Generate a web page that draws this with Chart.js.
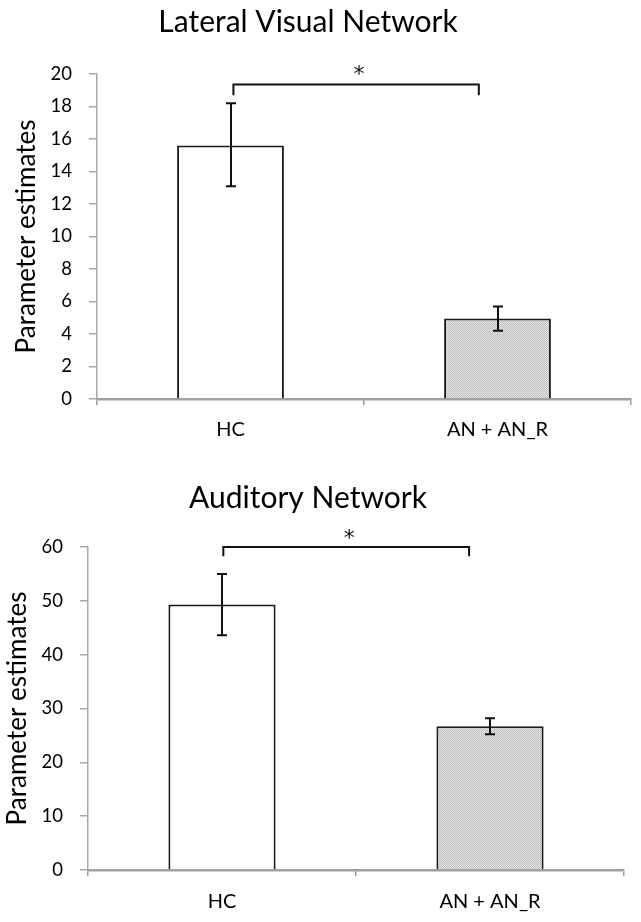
<!DOCTYPE html>
<html>
<head>
<meta charset="utf-8">
<script src="https://cdn.jsdelivr.net/npm/chart.js@4/dist/chart.umd.min.js"></script>
<style>
  html, body { margin: 0; padding: 0; background: #fff; }
  body { width: 641px; height: 922px; position: relative; overflow: hidden; }
  canvas { position: absolute; left: 0; }
</style>
</head>
<body>
<canvas id="c1" width="641" height="460" style="top:0"></canvas>
<canvas id="c2" width="641" height="462" style="top:460px"></canvas>
<script>
// ---- data ----
const categories = ['HC', 'AN + AN_R'];
const yAxisTitle = 'Parameter estimates';

const visualTitle = 'Lateral Visual Network';
const visualValues = [15.6, 4.95];
const visualErrUpper = [18.2, 5.7];
const visualErrLower = [13.1, 4.2];
const visualYMax = 20;
const visualYStep = 2;
const visualBracket = [19.35, 18.7];   // bracket level, end-drop level
const visualStar = '*';

const auditoryTitle = 'Auditory Network';
const auditoryValues = [49.3, 26.7];
const auditoryErrUpper = [55.0, 28.2];
const auditoryErrLower = [43.6, 25.2];
const auditoryYMax = 60;
const auditoryYStep = 10;
const auditoryBracket = [60, 58.3];
const auditoryStar = '*';

// ---- pattern for the grey bar ----
function makePattern() {
  const pc = document.createElement('canvas');
  pc.width = 2; pc.height = 2;
  const px = pc.getContext('2d');
  px.fillStyle = '#e6e6e6'; px.fillRect(0, 0, 2, 2);
  px.fillStyle = '#bdbdbd'; px.fillRect(0, 0, 1, 1); px.fillRect(1, 1, 1, 1);
  return px.createPattern(pc, 'repeat');
}

const FONT = 'Lato, "Open Sans", sans-serif';

function buildChart(canvasId, cfg) {
  const ctx = document.getElementById(canvasId).getContext('2d');
  const decoPlugin = {
    id: 'errAndBracket',
    afterDatasetsDraw(chart) {
      const c = chart.ctx;
      const meta = chart.getDatasetMeta(0);
      const ys = chart.scales.y, xs = chart.scales.x;
      c.save();
      c.strokeStyle = '#111';
      c.lineWidth = 2;
      meta.data.forEach((bar, i) => {
        const x = Math.round(bar.x);
        const yH = ys.getPixelForValue(cfg.errUpper[i]);
        const yL = ys.getPixelForValue(cfg.errLower[i]);
        c.beginPath();
        c.moveTo(x, yH); c.lineTo(x, yL);
        c.moveTo(x - 5, yH); c.lineTo(x + 5, yH);
        c.moveTo(x - 5, yL); c.lineTo(x + 5, yL);
        c.stroke();
      });
      // significance bracket
      const xl = xs.getPixelForValue(cfg.bracketX[0]);
      const xr = xs.getPixelForValue(cfg.bracketX[1]);
      const yb = ys.getPixelForValue(cfg.bracket[0]);
      const yd = ys.getPixelForValue(cfg.bracket[1]);
      c.beginPath();
      c.moveTo(xl, yd); c.lineTo(xl, yb); c.lineTo(xr, yb); c.lineTo(xr, yd);
      c.stroke();
      c.fillStyle = '#111';
      c.font = '22px "DejaVu Sans", sans-serif';
      c.textAlign = 'center';
      c.textBaseline = 'alphabetic';
      c.fillText(cfg.star, (xl + xr) / 2 + 3, yb - cfg.starGap);
      // chart title
      c.fillStyle = '#000';
      c.font = '30px ' + FONT;
      c.fillText(cfg.title, cfg.titleX, cfg.titleBaseline);
      c.restore();
    }
  };
  return new Chart(ctx, {
    type: 'bar',
    data: {
      labels: categories,
      datasets: [{
        data: cfg.values,
        backgroundColor: ['#ffffff', makePattern()],
        borderColor: '#1a1a1a',
        borderWidth: 2,
        borderSkipped: 'start',
        categoryPercentage: 1.0,
        barPercentage: 0.4
      }]
    },
    options: {
      responsive: false,
      animation: false,
      devicePixelRatio: 1,
      layout: { padding: { left: 0, right: cfg.padRight, top: cfg.padTop, bottom: 0 } },
      plugins: {
        legend: { display: false },
        tooltip: { enabled: false },
        title: { display: false }
      },
      scales: {
        x: {
          grid: { drawOnChartArea: false, drawTicks: true, tickLength: 6, color: '#9a9a9a', lineWidth: 1.5 },
          border: { color: '#a0a0a0', width: 2.5 },
          ticks: { color: '#000', font: { family: FONT, size: 20 }, padding: cfg.xTickPad },
          afterFit(s) { s.height = cfg.xHeight; }
        },
        y: {
          min: 0,
          max: cfg.yMax,
          grid: { drawOnChartArea: false, drawTicks: true, tickLength: 8, color: '#a8a8a8', lineWidth: 1.5 },
          border: { color: '#a8a8a8', width: 1.5 },
          ticks: { stepSize: cfg.yStep, color: '#000', font: { family: FONT, size: 18.5 }, padding: 17 },
          title: {
            display: true,
            text: yAxisTitle,
            color: '#000',
            font: { family: FONT, size: 26, weight: 'normal' },
            padding: { top: cfg.yTitlePad, bottom: 0 }
          },
          afterFit(s) { s.width = cfg.yWidth; }
        }
      }
    },
    plugins: [decoPlugin]
  });
}

buildChart('c1', {
  title: visualTitle, values: visualValues, errUpper: visualErrUpper, errLower: visualErrLower,
  yMax: visualYMax, yStep: visualYStep, bracket: visualBracket, bracketX: [0.011, 0.93], star: visualStar,
  starGap: 4, padRight: 10, padTop: 74, titleX: 308, titleBaseline: 32, xHeight: 61, xTickPad: 12.5,
  yWidth: 97, yTitlePad: 11
});

buildChart('c2', {
  title: auditoryTitle, values: auditoryValues, errUpper: auditoryErrUpper, errLower: auditoryErrLower,
  yMax: auditoryYMax, yStep: auditoryYStep, bracket: auditoryBracket, bracketX: [0.005, 0.922], star: auditoryStar,
  starGap: 2, padRight: 17, padTop: 87, titleX: 308, titleBaseline: 48, xHeight: 52, xTickPad: 14,
  yWidth: 88, yTitlePad: 2
});
</script>
</body>
</html>
